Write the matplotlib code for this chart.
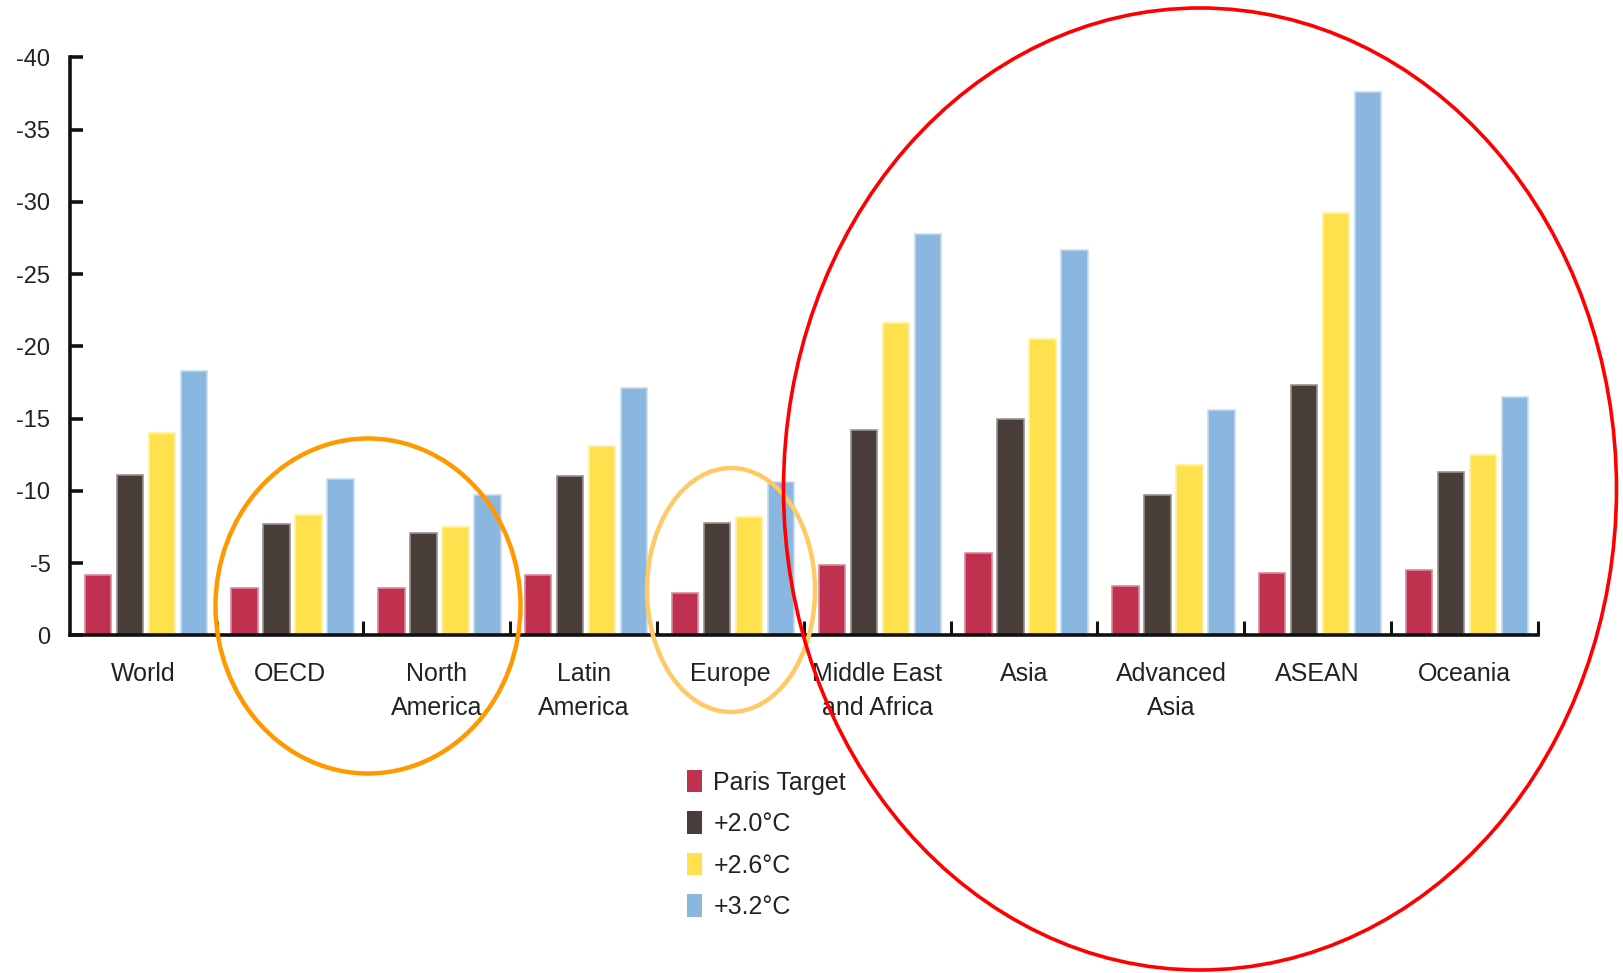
import numpy as np
import matplotlib.pyplot as plt
from matplotlib.patches import Ellipse, Patch

plt.rcParams['font.family'] = ['Liberation Sans', 'DejaVu Sans']

# Regions and impact values (% change)
regions = ['World', 'OECD', 'North\nAmerica', 'Latin\nAmerica', 'Europe',
           'Middle East\nand Africa', 'Asia', 'Advanced\nAsia', 'ASEAN', 'Oceania']
paris = [-4.2, -3.3, -3.3, -4.2, -2.9, -4.9, -5.7, -3.4, -4.3, -4.5]
deg_20 = [-11.1, -7.7, -7.1, -11.0, -7.8, -14.2, -15.0, -9.7, -17.3, -11.3]
deg_26 = [-14.0, -8.3, -7.5, -13.1, -8.2, -21.6, -20.5, -11.8, -29.2, -12.5]
deg_32 = [-18.3, -10.8, -9.7, -17.1, -10.6, -27.8, -26.7, -15.6, -37.6, -16.5]

series = [paris, deg_20, deg_26, deg_32]
labels = ['Paris Target', '+2.0°C', '+2.6°C', '+3.2°C']
colors = ['#C0304F', '#493E3A', '#FFE04D', '#89B7DF']
edges = ['#D98A9C', '#9A918E', '#FFF0A8', '#C6DBEF']

fig = plt.figure(figsize=(16.24, 9.73), dpi=100)
ax = fig.add_axes([0.043, 0.347, 0.904, 0.594])

x = np.arange(len(regions))
w = 0.18
offs = [-0.31, -0.092, 0.126, 0.344]
for vals, c, ec, o in zip(series, colors, edges, offs):
    ax.bar(x + o, vals, width=w, color=c, edgecolor=ec, linewidth=1.2)

ax.set_xlim(-0.5, len(regions) - 0.5)
ax.set_ylim(0, -40)
ax.set_yticks(np.arange(0, -41, -5))
ax.set_yticklabels([str(v) for v in np.arange(0, -41, -5)])
for s in ['top', 'right']:
    ax.spines[s].set_visible(False)
for s in ['left', 'bottom']:
    ax.spines[s].set_linewidth(2.6)
    ax.spines[s].set_color('#111111')

ax.tick_params(axis='y', direction='in', length=9, width=2.6, pad=14,
               labelsize=17, colors='#111111', labelcolor='#222222')
ax.set_xticks(x)
ax.set_xticklabels(regions, fontsize=18, color='#222222', linespacing=1.56)
ax.tick_params(axis='x', which='major', length=0, pad=19)
ax.set_xticks(np.arange(0.5, len(regions)), minor=True)
ax.tick_params(axis='x', which='minor', direction='in', length=10, width=2.2,
               color='#111111')

handles = [Patch(facecolor=c, edgecolor='none') for c in colors]
fig.legend(handles, labels, loc='upper left', bbox_to_anchor=(0.409, 0.232),
           frameon=False, fontsize=18, handlelength=0.62, handleheight=1.0,
           handletextpad=0.45, labelspacing=0.67, labelcolor='#222222')

# highlight ellipses (figure coordinates)
W, H = 1624, 973
def ring(cx, cy, ew, eh, color, lw):
    e = Ellipse((cx / W, 1 - cy / H), ew / W, eh / H, transform=fig.transFigure,
                fill=False, edgecolor=color, linewidth=lw, clip_on=False)
    fig.patches.append(e)

ring(368, 606, 305, 335, '#FF9900', 3.2)
ring(731, 590, 168, 244, '#FFC966', 3.2)
ring(1200, 489, 833, 962, '#FF0000', 2.6)

fig.savefig('out.png', dpi=100)
